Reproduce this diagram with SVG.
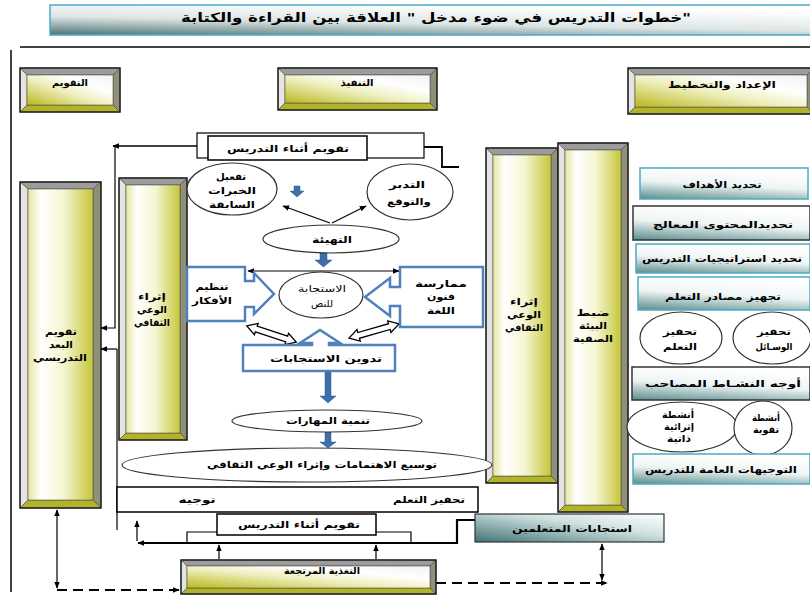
<svg xmlns="http://www.w3.org/2000/svg" xmlns:xlink="http://www.w3.org/1999/xlink" width="810" height="598" viewBox="0 0 810 598">
<defs>
<linearGradient id="faceH" x1="0" y1="1" x2="1" y2="0"><stop offset="0" stop-color="#b8b81e"/><stop offset="0.45" stop-color="#efefbf"/><stop offset="0.7" stop-color="#ffffff"/><stop offset="1" stop-color="#f2f2f2"/></linearGradient>
<linearGradient id="faceV" x1="0" y1="0" x2="1" y2="0"><stop offset="0" stop-color="#e6e6a0"/><stop offset="0.2" stop-color="#ffffff"/><stop offset="0.55" stop-color="#f5f5d2"/><stop offset="1" stop-color="#c6c63a"/></linearGradient>
<linearGradient id="teal" x1="0.3" y1="0" x2="0" y2="1"><stop offset="0" stop-color="#ffffff"/><stop offset="0.45" stop-color="#eef4f4"/><stop offset="1" stop-color="#5a8c8c"/></linearGradient>
<linearGradient id="titleG" x1="0.5" y1="0" x2="0" y2="1"><stop offset="0" stop-color="#ffffff"/><stop offset="0.5" stop-color="#dde5e5"/><stop offset="1" stop-color="#4d7373"/></linearGradient>
<linearGradient id="respG" x1="0" y1="1" x2="1" y2="0"><stop offset="0" stop-color="#3f7373"/><stop offset="0.6" stop-color="#cfe0e0"/><stop offset="1" stop-color="#ffffff"/></linearGradient>
<marker id="ah" viewBox="0 0 10 10" refX="9" refY="5" markerWidth="7" markerHeight="7" orient="auto-start-reverse" markerUnits="userSpaceOnUse"><path d="M0,1 L10,5 L0,9 z" fill="#000"/></marker>
<path id="dbl" d="M-26,0 L-16,-6 L-16,-3 L16,-3 L16,-6 L26,0 L16,6 L16,3 L-16,3 L-16,6 Z"/>
</defs>
<style>
text{font-family:"DejaVu Sans",sans-serif;font-weight:bold;font-size:9.5px;fill:#000;text-anchor:middle}
.t12{font-size:13px}
.bt{fill:#9c9c9c;stroke:#444;stroke-width:0.6}
.bl{fill:#e4e4e4;stroke:#444;stroke-width:0.6}
.br{fill:#8f8f7a;stroke:#444;stroke-width:0.6}
.bb{fill:#b3b32a;stroke:#444;stroke-width:0.6}
.fh{fill:url(#faceH);stroke:#555;stroke-width:0.6}
.fv{fill:url(#faceV);stroke:#555;stroke-width:0.6}
.ol{fill:none;stroke:#222;stroke-width:1.5}
.el{fill:#fff;stroke:#333;stroke-width:1.2}
.tb{fill:url(#teal);stroke:#4bacc6;stroke-width:1.5}
.td{fill:url(#teal);stroke:#333;stroke-width:1.5}
.wb{fill:#fff;stroke:#000;stroke-width:1.5}
.blue{fill:#fff;stroke:#4f81bd;stroke-width:2.5}
.barr{fill:#3f6fa8;stroke:#2f5a8a;stroke-width:0.5}
.ln{fill:none;stroke:#000;stroke-width:1.2}
.lt{fill:none;stroke:#000;stroke-width:2.2}
.dash{fill:none;stroke:#000;stroke-width:2;stroke-dasharray:10 6}
.hol{fill:#fff;stroke:#000;stroke-width:1.3}
</style>
<rect width="810" height="598" fill="#fff"/>

<g id="title">
<rect x="50" y="5" width="762" height="30" fill="url(#titleG)" stroke="#4bacc6" stroke-width="1.5"/>
<text class="t12" x="436" y="22" textLength="510" lengthAdjust="spacingAndGlyphs">خطوات التدريس في ضوء مدخل " العلاقة بين القراءة والكتابة"</text>
</g>

<g id="frame">
<path class="lt" d="M20,47 H810" style="stroke-width:1.6"/>
<path class="ln" d="M11,50 V592" style="stroke-width:1.5"/>
</g>

<g id="h-taqweem">
<polygon class="bt" points="20,68 120,68 113,75 27,75"/>
<polygon class="bl" points="20,68 27,75 27,105 20,112"/>
<polygon class="br" points="120,68 120,112 113,105 113,75"/>
<polygon class="bb" points="20,112 120,112 113,105 27,105"/>
<rect class="fh" x="27" y="75" width="86" height="30"/>
<rect class="ol" x="20" y="68" width="100" height="44"/>
<text x="70" y="86" textLength="36" lengthAdjust="spacingAndGlyphs">التقويم</text>
</g>

<g id="h-tanfeeth">
<polygon class="bt" points="278,68 437,68 430,75 285,75"/>
<polygon class="bl" points="278,68 285,75 285,103 278,110"/>
<polygon class="br" points="437,68 437,110 430,103 430,75"/>
<polygon class="bb" points="278,110 437,110 430,103 285,103"/>
<rect class="fh" x="285" y="75" width="145" height="28"/>
<rect class="ol" x="278" y="68" width="159" height="42"/>
<text x="357" y="86" textLength="33" lengthAdjust="spacingAndGlyphs">التنفيذ</text>
</g>

<g id="h-iedad">
<polygon class="bt" points="628,68 814,68 807,75 635,75"/>
<polygon class="bl" points="628,68 635,75 635,107 628,114"/>
<polygon class="br" points="814,68 814,114 807,107 807,75"/>
<polygon class="bb" points="628,114 814,114 807,107 635,107"/>
<rect class="fh" x="635" y="75" width="172" height="32"/>
<rect class="ol" x="628" y="68" width="186" height="46"/>
<text x="722" y="88" textLength="108" lengthAdjust="spacingAndGlyphs">الإعداد والتخطيط</text>
</g>

<g id="col-baad">
<polygon class="bt" points="20,182 101,182 93,189 28,189"/>
<polygon class="bl" points="20,182 28,189 28,500 20,508"/>
<polygon class="br" points="101,182 101,508 93,500 93,189"/>
<polygon class="bb" points="20,508 101,508 93,500 28,500"/>
<rect class="fv" x="28" y="189" width="65" height="311"/>
<rect class="ol" x="20" y="182" width="81" height="326"/>
<text x="61" y="335" textLength="32" lengthAdjust="spacingAndGlyphs">تقويم</text>
<text x="61" y="348" textLength="24" lengthAdjust="spacingAndGlyphs">البعد</text>
<text x="60" y="361" textLength="54" lengthAdjust="spacingAndGlyphs">التدريسي</text>
</g>

<g id="col-ithraa-left">
<polygon class="bt" points="119,178 187,178 180,185 126,185"/>
<polygon class="bl" points="119,178 126,185 126,433 119,440"/>
<polygon class="br" points="187,178 187,440 180,433 180,185"/>
<polygon class="bb" points="119,440 187,440 180,433 126,433"/>
<rect class="fv" x="126" y="185" width="54" height="248"/>
<rect class="ol" x="119" y="178" width="68" height="262"/>
<text x="152" y="300" textLength="28" lengthAdjust="spacingAndGlyphs">إثراء</text>
<text x="152" y="313" textLength="30" lengthAdjust="spacingAndGlyphs">الوعي</text>
<text x="152" y="326" textLength="36" lengthAdjust="spacingAndGlyphs">الثقافي</text>
</g>

<g id="col-ithraa-right">
<polygon class="bt" points="486,148 558,148 551,155 493,155"/>
<polygon class="bl" points="486,148 493,155 493,476 486,483"/>
<polygon class="br" points="558,148 558,483 551,476 551,155"/>
<polygon class="bb" points="486,483 558,483 551,476 493,476"/>
<rect class="fv" x="493" y="155" width="58" height="321"/>
<rect class="ol" x="486" y="148" width="72" height="335"/>
<text x="524" y="305" textLength="28" lengthAdjust="spacingAndGlyphs">إثراء</text>
<text x="524" y="318" textLength="34" lengthAdjust="spacingAndGlyphs">الوعي</text>
<text x="524" y="331" textLength="38" lengthAdjust="spacingAndGlyphs">الثقافي</text>
</g>

<g id="col-dabt">
<polygon class="bt" points="558,143 628,143 621,150 565,150"/>
<polygon class="bl" points="558,143 565,150 565,505 558,512"/>
<polygon class="br" points="628,143 628,512 621,505 621,150"/>
<polygon class="bb" points="558,512 628,512 621,505 565,505"/>
<rect class="fv" x="565" y="150" width="56" height="355"/>
<rect class="ol" x="558" y="143" width="70" height="369"/>
<text x="593" y="316" textLength="33" lengthAdjust="spacingAndGlyphs">ضبط</text>
<text x="593" y="329" textLength="28" lengthAdjust="spacingAndGlyphs">البيئة</text>
<text x="593" y="342" textLength="40" lengthAdjust="spacingAndGlyphs">الصفية</text>
</g>

<g id="connectors">
<path class="ln" d="M208,146 H113" marker-end="url(#ah)" style="stroke-width:1.6"/>
<path class="ln" d="M115,146 V328 H101" marker-end="url(#ah)"/>
<path class="ln" d="M117,349 H101" marker-end="url(#ah)"/>
<path class="ln" d="M117,349 V530"/>
<path class="lt" d="M367,147 H442 V167 H459" style="stroke-width:1.8"/>
<path class="ln" d="M330,223 L283,206" marker-end="url(#ah)"/>
<path class="ln" d="M332,223 L366,206" marker-end="url(#ah)"/>
<path class="ln" d="M399,271 H248" marker-start="url(#ah)" marker-end="url(#ah)"/>
<path class="barr" d="M294,186 h6 v5 h4 l-7,6 l-7,-6 h4 z"/>
<path class="barr" d="M320,253 h7 v7 h5 l-8.5,7 l-8.5,-7 h5 z"/>
<path class="barr" d="M325,372 h6 v24 h5 l-8,7 l-8,-7 h5 z"/>
<path class="barr" d="M325,432 h6 v10 h5 l-8,6 l-8,-6 h5 z"/>
<use href="#dbl" class="hol" transform="translate(271.5,334) rotate(18)"/>
<use href="#dbl" class="hol" transform="translate(374,331) rotate(-16)"/>
<path class="lt" d="M475,520 H457 V543 H138" marker-end="url(#ah)"/>
<path class="ln" d="M137,541 V521" marker-end="url(#ah)"/>
<path class="ln" d="M187,543 V532 H411 V543"/>
<path class="ln" d="M219,559 V545" marker-end="url(#ah)"/>
<path class="ln" d="M376,559 V545" marker-end="url(#ah)"/>
<path class="ln" d="M57,510 V588" marker-start="url(#ah)" marker-end="url(#ah)"/>
<path class="dash" d="M57,590 H179" marker-end="url(#ah)"/>
<path class="dash" d="M436,583 H607" marker-end="url(#ah)"/>
<path class="ln" d="M602,544 V580" marker-start="url(#ah)" marker-end="url(#ah)"/>
</g>

<g id="taqweem-top">
<rect class="wb" x="197" y="133" width="227" height="25" style="stroke-width:1.2"/>
<rect class="wb" x="208" y="136" width="159" height="24"/>
<text x="288" y="152" textLength="122" lengthAdjust="spacingAndGlyphs">تقويم أثناء التدريس</text>
</g>

<g id="tafeel">
<ellipse class="el" cx="232" cy="189" rx="45" ry="26"/>
<text x="231" y="180" textLength="30" lengthAdjust="spacingAndGlyphs">تفعيل</text>
<text x="232" y="194" textLength="48" lengthAdjust="spacingAndGlyphs">الخبرات</text>
<text x="232" y="208" textLength="46" lengthAdjust="spacingAndGlyphs">السابقة</text>
</g>

<g id="tadabbur">
<ellipse class="el" cx="410" cy="192" rx="43" ry="28"/>
<text x="407" y="188" textLength="36" lengthAdjust="spacingAndGlyphs">التدبر</text>
<text x="409" y="205" textLength="44" lengthAdjust="spacingAndGlyphs">والتوقع</text>
</g>

<g id="tahyia">
<ellipse class="el" cx="331" cy="239" rx="68" ry="14"/>
<text x="332" y="243" textLength="40" lengthAdjust="spacingAndGlyphs">التهيئة</text>
</g>

<g id="istijaba">
<ellipse class="el" cx="321" cy="295" rx="42" ry="23"/>
<text x="322" y="292" style="font-weight:normal" textLength="48" lengthAdjust="spacingAndGlyphs">الاستجابة</text>
<text x="322" y="307" style="font-weight:normal" textLength="22" lengthAdjust="spacingAndGlyphs">للنص</text>
</g>

<g id="tanzeem">
<path class="blue" d="M187,267 H245 V281 H254 V273 L274,294 L254,314 V307 H245 V321 H187 Z"/>
<text x="212" y="290" textLength="33" lengthAdjust="spacingAndGlyphs">تنظيم</text>
<text x="212" y="304" textLength="40" lengthAdjust="spacingAndGlyphs">الأفكار</text>
</g>

<g id="mumarasa">
<path class="blue" d="M483,267 H400 V287 H390 V278 L365,297 L390,316 V306 H400 V327 H483 Z"/>
<text x="441" y="287" textLength="52" lengthAdjust="spacingAndGlyphs">ممارسة</text>
<text x="441" y="300" textLength="28" lengthAdjust="spacingAndGlyphs">فنون</text>
<text x="441" y="314" textLength="28" lengthAdjust="spacingAndGlyphs">اللغة</text>
</g>

<g id="tadween">
<path class="blue" d="M243,345 H312 V343 H300 L320,330 L340,343 H329 V345 H395 V371 H243 Z"/>
<text x="326" y="362" textLength="112" lengthAdjust="spacingAndGlyphs">تدوين الاستجابات</text>
</g>

<g id="tanmia">
<ellipse class="el" cx="327" cy="421" rx="95" ry="11"/>
<text x="328" y="424" textLength="84" lengthAdjust="spacingAndGlyphs">تنمية المهارات</text>
</g>

<g id="tawsee">
<ellipse class="el" cx="307" cy="465" rx="185" ry="17"/>
<text x="322" y="468" textLength="230" lengthAdjust="spacingAndGlyphs">توسيع الاهتمامات وإثراء الوعي الثقافي</text>
</g>

<g id="tawjeeh">
<rect class="wb" x="117" y="487" width="361" height="25"/>
<text x="429" y="503" textLength="72" lengthAdjust="spacingAndGlyphs">تحفيز التعلم</text>
<text x="197" y="503" textLength="37" lengthAdjust="spacingAndGlyphs">توجيه</text>
</g>

<g id="taqweem-bottom">
<rect class="wb" x="217" y="514" width="159" height="21"/>
<text x="299" y="528" textLength="122" lengthAdjust="spacingAndGlyphs">تقويم أثناء التدريس</text>
</g>

<g id="istijabat">
<rect x="475" y="514" width="189" height="28" fill="url(#respG)" stroke="#333" stroke-width="1.2"/>
<text x="572" y="532" textLength="120" lengthAdjust="spacingAndGlyphs">استجابات المتعلمين</text>
</g>

<g id="taghthiya">
<polygon class="bt" points="181,560 436,560 430,566 187,566"/>
<polygon class="bl" points="181,560 187,566 187,588 181,594"/>
<polygon class="br" points="436,560 436,594 430,588 430,566"/>
<polygon class="bb" points="181,594 436,594 430,588 187,588"/>
<rect class="fh" x="187" y="566" width="243" height="22"/>
<rect class="ol" x="181" y="560" width="255" height="34"/>
<text x="322" y="574" textLength="76" lengthAdjust="spacingAndGlyphs">التغذية المرتجعة</text>
</g>

<g id="r-ahdaf">
<rect class="tb" x="640" y="168" width="168" height="31"/>
<text x="722" y="188" textLength="79" lengthAdjust="spacingAndGlyphs">تحديد الأهداف</text>
</g>
<g id="r-muhtawa">
<rect class="td" x="633" y="206" width="177" height="34"/>
<text x="723" y="228" textLength="140" lengthAdjust="spacingAndGlyphs">تحديدالمحتوى المعالج</text>
</g>
<g id="r-istratijiyat">
<rect class="tb" x="636" y="244" width="174" height="29"/>
<text x="722" y="262" textLength="160" lengthAdjust="spacingAndGlyphs">تحديد استراتيجيات التدريس</text>
</g>
<g id="r-masadir">
<rect class="tb" x="638" y="277" width="172" height="33"/>
<text x="723" y="300" textLength="116" lengthAdjust="spacingAndGlyphs">تجهيز مصادر التعلم</text>
</g>
<g id="r-tahfeez-taallum">
<ellipse class="el" cx="681" cy="338" rx="41" ry="26"/>
<text x="680" y="335" textLength="34" lengthAdjust="spacingAndGlyphs">تحفيز</text>
<text x="680" y="350" textLength="34" lengthAdjust="spacingAndGlyphs">التعلم</text>
</g>
<g id="r-tahfeez-wasail">
<ellipse class="el" cx="772" cy="338" rx="39" ry="26"/>
<text x="774" y="335" textLength="34" lengthAdjust="spacingAndGlyphs">تحفيز</text>
<text x="774" y="350" textLength="37" lengthAdjust="spacingAndGlyphs">الوسـائل</text>
</g>
<g id="r-awjuh">
<rect class="td" x="632" y="367" width="178" height="33"/>
<text x="723" y="387" textLength="156" lengthAdjust="spacingAndGlyphs">أوجه النشـاط المصاحب</text>
</g>
<g id="r-ithraiya">
<ellipse class="el" cx="682" cy="427" rx="55" ry="25"/>
<text x="678" y="418" textLength="32" lengthAdjust="spacingAndGlyphs">أنشطة</text>
<text x="679" y="430" textLength="30" lengthAdjust="spacingAndGlyphs">إثرائية</text>
<text x="679" y="442" textLength="24" lengthAdjust="spacingAndGlyphs">ذاتية</text>
</g>
<g id="r-taqwiya">
<ellipse class="el" cx="763" cy="428" rx="29" ry="27"/>
<text x="766" y="421" textLength="28" lengthAdjust="spacingAndGlyphs">أنشطة</text>
<text x="766" y="433" textLength="26" lengthAdjust="spacingAndGlyphs">تقوية</text>
</g>
<g id="r-tawjeehat">
<rect class="tb" x="633" y="454" width="177" height="30"/>
<text x="721" y="473" textLength="152" lengthAdjust="spacingAndGlyphs">التوجيهات العامة للتدريس</text>
</g>
</svg>
